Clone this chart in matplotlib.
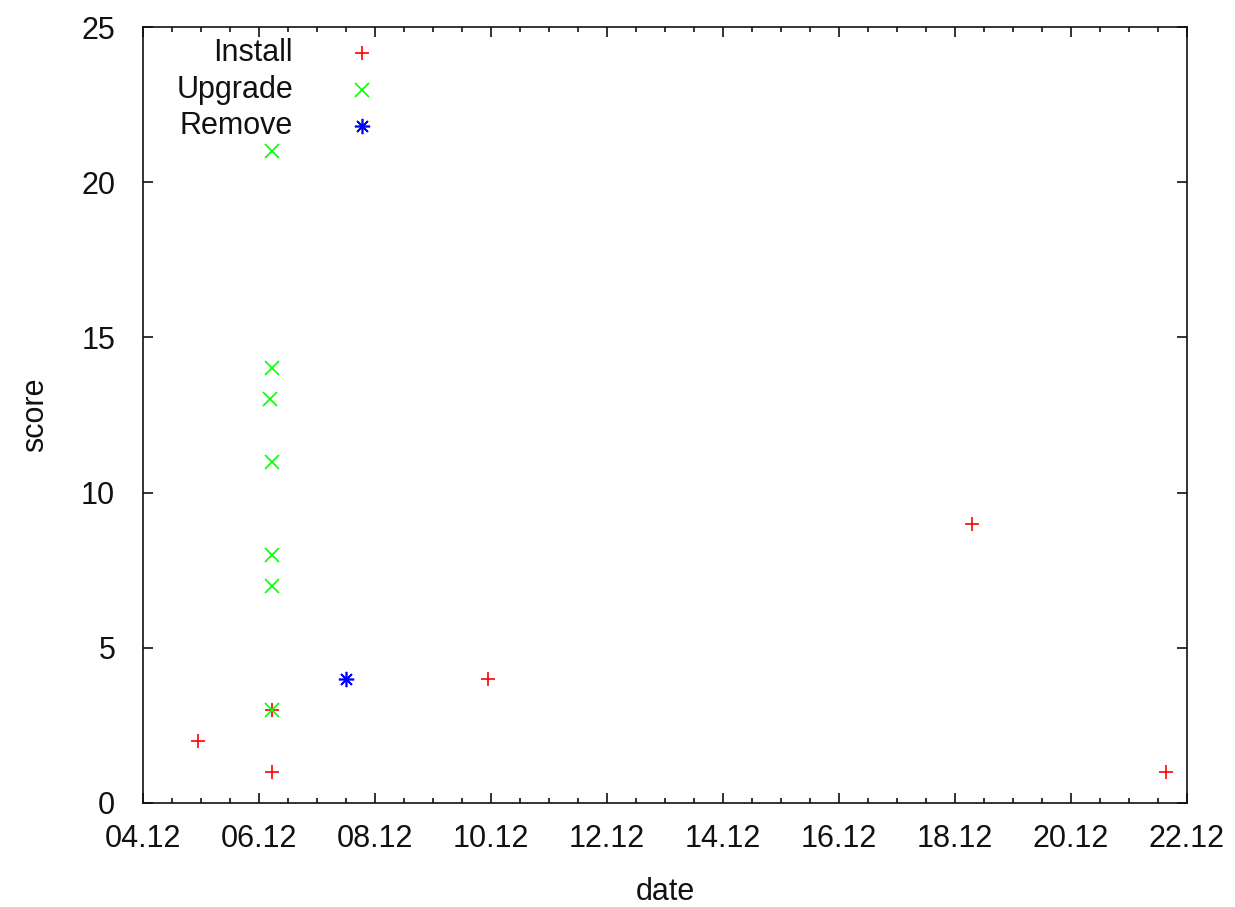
import matplotlib
matplotlib.use("Agg")
import matplotlib.pyplot as plt
import matplotlib.dates as mdates
import pandas as pd

# data (dates in December)
install_dates = ["2012-12-04 22:45", "2012-12-06 05:20", "2012-12-06 05:20",
                 "2012-12-09 22:50", "2012-12-18 07:10", "2012-12-21 15:20"]
install_score = [2, 1, 3, 4, 9, 1]

upgrade_dates = ["2012-12-06 05:20", "2012-12-06 05:20", "2012-12-06 04:30",
                 "2012-12-06 05:20", "2012-12-06 05:20", "2012-12-06 05:20",
                 "2012-12-06 05:20"]
upgrade_score = [21, 14, 13, 11, 8, 7, 3]

remove_dates = ["2012-12-07 12:00"]
remove_score = [4]

names = ['Install', 'Upgrade', 'Remove']
colors = ['#ff0000', '#00ff00', '#0000ff']
markers = ['+', 'x', (8, 2, 0)]
sizes = [10, 9.5, 11]

plt.rcParams['font.family'] = ['Liberation Sans', 'DejaVu Sans']
plt.rcParams['font.size'] = 22

fig = plt.figure(figsize=(12.35, 9.07), dpi=100)
ax = fig.add_axes([0.1158, 0.1147, 0.8453, 0.8555])

series = [(install_dates, install_score), (upgrade_dates, upgrade_score),
          (remove_dates, remove_score)]
for (d, s), n, c, m, ms in zip(series, names, colors, markers, sizes):
    ax.plot(pd.to_datetime(d), s, ls='none', marker=m, ms=ms, mew=1.2,
            color=c, label=n)

ax.set_xlim(pd.Timestamp("2012-12-04"), pd.Timestamp("2012-12-22"))
ax.set_ylim(0, 25)
ax.xaxis.set_major_locator(mdates.DayLocator(interval=2))
ax.xaxis.set_minor_locator(mdates.HourLocator(byhour=[0, 12]))
ax.xaxis.set_major_formatter(mdates.DateFormatter('%d.%m'))
ax.set_yticks([0, 5, 10, 15, 20, 25])

ax.tick_params(axis='both', which='both', direction='in', top=True, right=True,
               colors='#111111', width=1.2)
ax.tick_params(axis='x', which='major', length=7, pad=15)
ax.tick_params(axis='x', which='minor', length=3.5)
ax.tick_params(axis='y', which='major', length=7, pad=20)
for s in ax.spines.values():
    s.set_linewidth(1.2)
    s.set_color('#111111')

ax.set_xlabel('date', labelpad=17, color='#111111')
ax.set_ylabel('score', labelpad=22, color='#111111')

# gnuplot-style key: right-aligned text, sample marker to its right
for i, (n, c, m, ms) in enumerate(zip(names, colors, markers, sizes)):
    yk = 0.9665 - i * 0.0472
    ax.text(0.1437, yk, n, transform=ax.transAxes, ha='right', va='center',
            color='#111111')
    ax.plot([0.2098], [yk], transform=ax.transAxes, ls='none', marker=m,
            ms=ms, mew=1.2, color=c, clip_on=False)

fig.savefig('out.png', dpi=100)
